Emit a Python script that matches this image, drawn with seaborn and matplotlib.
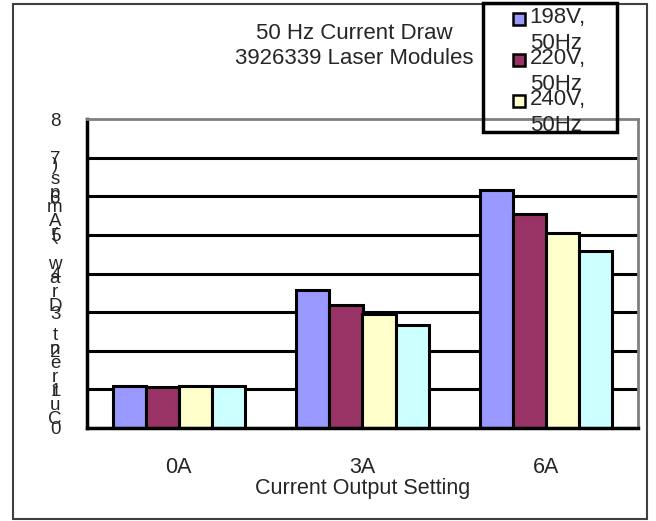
import numpy as np
import pandas as pd
import matplotlib
matplotlib.use("Agg")
import matplotlib.pyplot as plt
from matplotlib.patches import Rectangle, Patch
from matplotlib.legend_handler import HandlerPatch
import seaborn as sns

# --- Data ---
settings = ["0A", "3A", "6A"]
voltages = ["198V,\n50Hz", "220V,\n50Hz", "240V,\n50Hz", "264V,\n50Hz"]
amps_198 = [1.10, 3.56, 6.15]
amps_220 = [1.05, 3.19, 5.54]
amps_240 = [1.10, 2.95, 5.06]
amps_264 = [1.10, 2.67, 4.59]
y_ticks = [0, 1, 2, 3, 4, 5, 6, 7, 8]
colors = ["#9999FF", "#993366", "#FFFFCC", "#CCFFFF"]

df = pd.DataFrame({
    "setting": settings * 4,
    "voltage": np.repeat(voltages, 3),
    "amps": amps_198 + amps_220 + amps_240 + amps_264,
})

sns.set_style("white")
plt.rcParams["font.family"] = ["Liberation Sans", "DejaVu Sans"]

W, H = 656, 521
fig = plt.figure(figsize=(W / 100, H / 100), dpi=100)
ax = fig.add_axes([87 / W, 1 - 428 / H, (638 - 87) / W, (428 - 119) / H])

sns.barplot(data=df, x="setting", y="amps", hue="voltage", palette=colors,
            width=0.72, edgecolor="black", linewidth=2.2, saturation=1,
            legend=False, ax=ax)

ax.set_ylim(0, 8)
ax.set_xlim(-0.5, 2.5)
ax.set_yticks(y_ticks)
ax.set_yticklabels([str(t) for t in y_ticks], fontsize=13.5)
ax.tick_params(axis="y", direction="out", length=5, width=2.2, pad=14, color="black")
ax.tick_params(axis="x", which="major", length=0, pad=21, labelsize=15.5)
ax.set_xticks([0.5, 1.5, 2.5], minor=True)
ax.tick_params(axis="x", which="minor", direction="out", length=3, width=2, color="black")
ax.set_xlabel("Current Output Setting", fontsize=15.5, labelpad=0)
ax.set_ylabel("")

# black gridlines, except the top one which is the grey plot border
ax.set_axisbelow(True)
ax.yaxis.grid(True, color="black", linewidth=2.2)
ax.yaxis.get_gridlines()[-1].set_visible(False)

for side in ["left", "bottom"]:
    ax.spines[side].set_color("black")
    ax.spines[side].set_linewidth(2.5)
for side in ["top", "right"]:
    ax.spines[side].set_color("#808080")
    ax.spines[side].set_linewidth(2)

# stacked y-axis label as in the original
ylab = "Current Draw (Amps)"
ys = np.linspace(420, 165, len(ylab))
for ch, py in zip(ylab, ys):
    fig.text(55 / W, 1 - py / H, ch, fontsize=13.5, ha="center", va="center")

# title
fig.text(354 / W, 1 - 46 / H, "50 Hz Current Draw\n3926339 Laser Modules",
         fontsize=16, ha="center", va="center", linespacing=1.2)


# legend: square marker sits next to the first line of each label
def top_square(legend, orig_handle, xdescent, ydescent, width, height, fontsize):
    s = 0.55 * fontsize
    return Rectangle((-xdescent, -ydescent + height - s - 0.05 * fontsize), s, s)


handles = [Patch(facecolor=c, edgecolor="black", linewidth=1.8) for c in colors[:3]]
leg = fig.legend(handles, voltages[:3], loc="upper left",
                 bbox_to_anchor=(513 / W, 1 - 7 / H), fontsize=16,
                 frameon=False, handlelength=0.55, handleheight=2.4,
                 handletextpad=0.2, labelspacing=-0.25, borderpad=0,
                 borderaxespad=0,
                 handler_map={Patch: HandlerPatch(patch_func=top_square)})

legend_box = Rectangle((483 / W, 1 - 132 / H), 134 / W, 129 / H,
                       transform=fig.transFigure, fill=False,
                       edgecolor="black", linewidth=2.5, zorder=10)
fig.patches.append(legend_box)
for t in leg.get_texts():
    t.set_linespacing(1.3)
    t.set_clip_path(legend_box)

# outer chart border
fig.patches.append(Rectangle((13 / W, 1 - 519 / H), 634 / W, 515 / H,
                             transform=fig.transFigure, fill=False,
                             edgecolor="#404040", linewidth=1.5))

fig.savefig("out.png", dpi=100)
